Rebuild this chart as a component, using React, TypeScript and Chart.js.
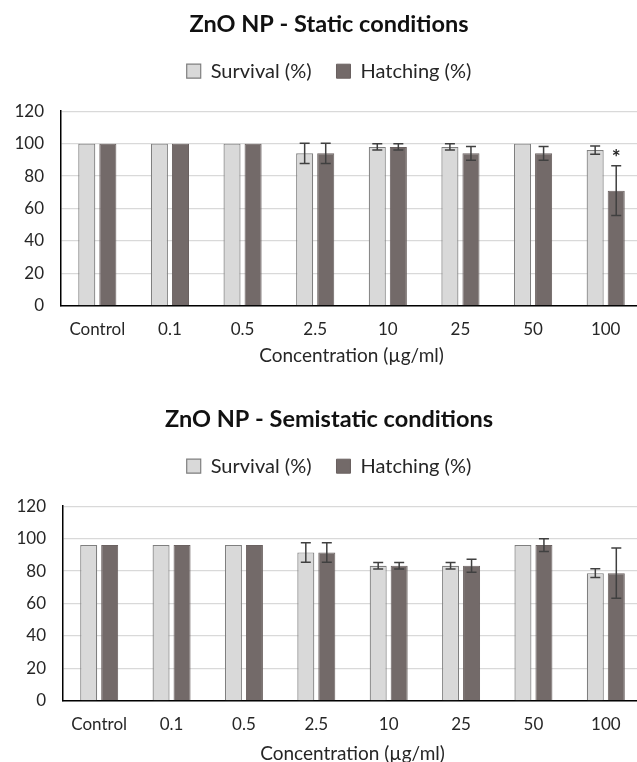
import React, { useEffect, useRef } from "react";
import { Chart, registerables } from "chart.js";

Chart.register(...registerables);

const categories = ["Control", "0.1", "0.5", "2.5", "10", "25", "50", "100"];
const yTicks = [0, 20, 40, 60, 80, 100, 120];

const staticSurvival = [100, 100, 100, 94, 98, 98, 100, 96];
const staticSurvivalErr = [0, 0, 0, 6.3, 2, 2, 0, 2.5];
const staticHatching = [100, 100, 100, 94, 98, 94, 94, 71];
const staticHatchingErr = [0, 0, 0, 6.3, 2, 4.3, 4.3, 15.3];
const staticHatchingMarks = ["", "", "", "", "", "", "", "*"];

const semiSurvival = [96, 96, 96, 91.5, 83.3, 83.3, 96, 78.7];
const semiSurvivalErr = [0, 0, 0, 6, 2, 2, 0, 2.7];
const semiHatching = [96, 96, 96, 91.5, 83.3, 83.3, 96, 78.7];
const semiHatchingErr = [0, 0, 0, 6, 2, 4, 4, 15.5];
const semiHatchingMarks = ["", "", "", "", "", "", "", ""];

const FONT = "Lato, 'Open Sans', sans-serif";

const legendSpacePlugin = {
  id: "legendSpace",
  beforeInit(chart: any) {
    const legend = chart.legend;
    if (!legend) return;
    const origFit = legend.fit;
    legend.fit = function () {
      origFit.call(this);
      this.height += 20;
    };
  },
};

const errorBarPlugin = {
  id: "errorBars",
  afterDatasetsDraw(chart: any, _args: any, opts: any) {
    const { ctx, scales } = chart;
    const y = scales.y;
    const errs: number[][] = opts.errors || [];
    const marks: string[][] = opts.marks || [];
    ctx.save();
    chart.data.datasets.forEach((ds: any, i: number) => {
      const meta = chart.getDatasetMeta(i);
      meta.data.forEach((el: any, j: number) => {
        const v = ds.data[j];
        const e = (errs[i] || [])[j] || 0;
        const x = el.x;
        if (e > 0) {
          const yt = y.getPixelForValue(v + e);
          const yb = y.getPixelForValue(v - e);
          ctx.strokeStyle = "#404040";
          ctx.lineWidth = 1.5;
          ctx.beginPath();
          ctx.moveTo(x, yt);
          ctx.lineTo(x, yb);
          ctx.moveTo(x - 5, yt);
          ctx.lineTo(x + 5, yt);
          ctx.moveTo(x - 5, yb);
          ctx.lineTo(x + 5, yb);
          ctx.stroke();
        }
        const m = (marks[i] || [])[j];
        if (m) {
          const yt = y.getPixelForValue(v + e);
          ctx.fillStyle = "#262626";
          ctx.font = "bold 21px " + FONT;
          ctx.textAlign = "center";
          ctx.textBaseline = "middle";
          ctx.fillText(m, x, yt - 8);
        }
      });
    });
    ctx.restore();
  },
};

function makeConfig(
  title: string,
  survival: number[],
  survivalErr: number[],
  hatching: number[],
  hatchingErr: number[],
  marks: string[],
  yWidth: number,
  axisTitleTop: number
): any {
  return {
    type: "bar",
    data: {
      labels: categories,
      datasets: [
        {
          label: "Survival (%)",
          data: survival,
          backgroundColor: "#d9d9d9",
          borderColor: "#7f7f7f",
          borderWidth: 1.2,
          categoryPercentage: 0.58,
          barPercentage: 0.81,
        },
        {
          label: "Hatching (%)",
          data: hatching,
          backgroundColor: "#736a69",
          borderColor: "#6a6160",
          borderWidth: 1,
          categoryPercentage: 0.58,
          barPercentage: 0.81,
        },
      ],
    },
    options: {
      responsive: false,
      animation: false,
      layout: { padding: { left: 0, right: 0, top: 6, bottom: 8 } },
      plugins: {
        title: {
          display: true,
          text: title,
          color: "#111111",
          font: { family: FONT, size: 23.5, weight: "bold" },
          padding: { top: 4, bottom: -2 },
        },
        legend: {
          display: true,
          labels: {
            color: "#262626",
            font: { family: FONT, size: 20 },
            boxWidth: 14,
            boxHeight: 14,
            padding: 25,
          },
        },
        tooltip: { enabled: false },
        errorBars: { errors: [survivalErr, hatchingErr], marks: [[], marks] },
      },
      scales: {
        x: {
          grid: { display: false, drawTicks: false },
          border: { display: true, color: "#000000", width: 1.5 },
          ticks: {
            color: "#262626",
            font: { family: FONT, size: 17 },
            padding: 14,
            maxRotation: 0,
          },
          title: {
            display: true,
            text: "Concentration (µg/ml)",
            color: "#262626",
            font: { family: FONT, size: 19 },
            padding: { top: axisTitleTop, bottom: 0 },
          },
        },
        y: {
          min: 0,
          max: 120,
          afterFit(scale: any) {
            scale.width = yWidth;
          },
          afterBuildTicks(scale: any) {
            scale.ticks = yTicks.map((v) => ({ value: v }));
          },
          grid: { color: "#d9d9d9", lineWidth: 1.2, drawTicks: false },
          border: { display: true, color: "#000000", width: 1.5 },
          ticks: {
            color: "#262626",
            font: { family: FONT, size: 17 },
            padding: 17,
          },
        },
        spacer: {
          type: "linear",
          position: "right",
          display: true,
          min: 0,
          max: 120,
          afterFit(scale: any) {
            scale.width = 16;
          },
          grid: { display: false, drawTicks: false },
          border: { display: false },
          ticks: { display: false },
        },
      },
    },
    plugins: [errorBarPlugin, legendSpacePlugin],
  };
}

function ChartCanvas({ config, width, height }: { config: any; width: number; height: number }) {
  const ref = useRef<HTMLCanvasElement | null>(null);
  useEffect(() => {
    if (!ref.current) return;
    const chart = new Chart(ref.current, config);
    return () => chart.destroy();
  }, [config]);
  return <canvas ref={ref} width={width} height={height} style={{ display: "block", width, height }} />;
}

const topConfig = makeConfig(
  "ZnO NP - Static conditions",
  staticSurvival,
  staticSurvivalErr,
  staticHatching,
  staticHatchingErr,
  staticHatchingMarks,
  61,
  -10
);
const bottomConfig = makeConfig(
  "ZnO NP - Semistatic conditions",
  semiSurvival,
  semiSurvivalErr,
  semiHatching,
  semiHatchingErr,
  semiHatchingMarks,
  63,
  -7
);

export default function App() {
  return (
    <div
      style={{
        position: "fixed",
        left: 0,
        top: 0,
        width: 637,
        height: 762,
        overflow: "hidden",
        background: "#ffffff",
      }}
    >
      <div style={{ position: "absolute", left: 0, top: 0 }}>
        <ChartCanvas config={topConfig} width={658} height={375} />
      </div>
      <div style={{ position: "absolute", left: 0, top: 395 }}>
        <ChartCanvas config={bottomConfig} width={658} height={378} />
      </div>
    </div>
  );
}
